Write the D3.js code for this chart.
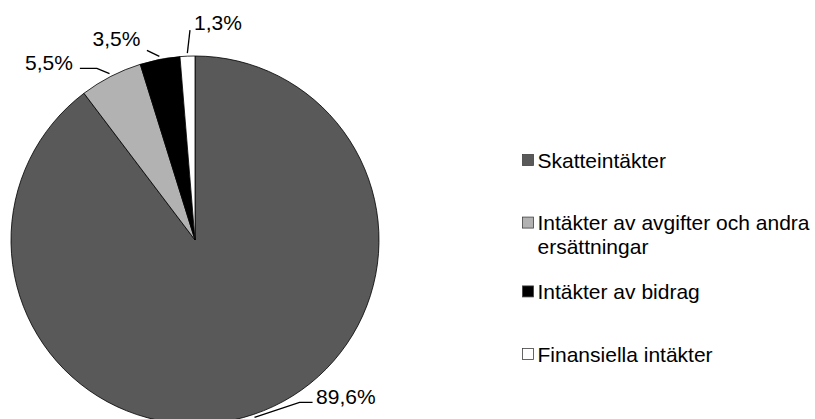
<!DOCTYPE html>
<html>
<head>
<meta charset="utf-8">
<script src="https://cdn.jsdelivr.net/npm/d3@7"></script>
<style>
  body { margin: 0; background: #fff; }
  text { font-family: "Liberation Sans", Arial, sans-serif; fill: #000; }
</style>
</head>
<body>
<div id="chart"></div>
<script>
var width = 815;
var height = 419;

// data
var categories = ["Skatteintäkter", "Intäkter av avgifter och andra ersättningar", "Intäkter av bidrag", "Finansiella intäkter"];
var values = [89.6, 5.5, 3.5, 1.3];
var valueLabels = ["89,6%", "5,5%", "3,5%", "1,3%"];
var legendLines = [["Skatteintäkter"], ["Intäkter av avgifter och andra", "ersättningar"], ["Intäkter av bidrag"], ["Finansiella intäkter"]];
var colors = ["#595959", "#b2b2b2", "#000000", "#ffffff"];

// label leader layout: elbow offset from slice edge, horizontal run, text offset
var labelLayout = [
    { ex: 46, ey: -12, run: 13, tx: 3.5, ty: 2, anchor: "start" },
    { ex: -14, ey: -8, run: -17, tx: -7, ty: 1.5, anchor: "end" },
    { ex: -13, ey: -9, run: 0, tx: -6.5, ty: -4.5, anchor: "end" },
    { ex: 2.5, ey: -26, run: 0, tx: 4, ty: -0.5, anchor: "start" }
];

var cx = 195, cy = 240, radius = 184;

var svg = d3.select("#chart")
    .append("svg")
    .attr("width", width)
    .attr("height", height);

var pie = d3.pie().sort(null).value(function (d) { return d; });
var arcs = pie(values);

var arc = d3.arc().innerRadius(0).outerRadius(radius);

var g = svg.append("g").attr("transform", "translate(" + cx + "," + cy + ")");

g.selectAll("path.slice")
    .data(arcs)
    .enter()
    .append("path")
    .attr("class", "slice")
    .attr("d", arc)
    .attr("fill", function (d, i) { return colors[i]; })
    .attr("stroke", "#000")
    .attr("stroke-width", 0.8)
    .attr("stroke-linejoin", "round");

// leader lines + labels
function edgePoint(d, r) {
    var a = (d.startAngle + d.endAngle) / 2;
    return [r * Math.sin(a), -r * Math.cos(a)];
}

arcs.forEach(function (d, i) {
    var L = labelLayout[i];
    var p0 = edgePoint(d, radius);
    var p1 = edgePoint(d, radius + 3);
    var elbow = [p0[0] + L.ex, p0[1] + L.ey];
    var end = [elbow[0] + L.run, elbow[1]];
    var pts = L.run === 0 ? [p1, elbow] : [p1, elbow, end];

    g.append("path")
        .attr("d", d3.line()(pts))
        .attr("fill", "none")
        .attr("stroke", "#000")
        .attr("stroke-width", 1.3);

    g.append("text")
        .attr("x", end[0] + L.tx)
        .attr("y", end[1] + L.ty)
        .attr("text-anchor", L.anchor)
        .style("font-size", "21px")
        .text(valueLabels[i]);
});

// legend: rows spaced by line slots (two-line entry takes a little more room)
var rowSlots = legendLines.map(function (lines, i) {
    return d3.sum(legendLines.slice(0, i), function (l) { return 1 + (l.length - 1) * 0.1; });
});
var legendY = d3.scaleLinear().domain([0, rowSlots[rowSlots.length - 1]]).range([160, 354]);
var legendX = 522;

var items = svg.selectAll("g.legend")
    .data(categories)
    .enter()
    .append("g")
    .attr("class", "legend")
    .attr("transform", function (d, i) { return "translate(" + legendX + "," + legendY(rowSlots[i]) + ")"; });

items.append("rect")
    .attr("x", 0.5)
    .attr("y", -5.5)
    .attr("width", 11)
    .attr("height", 11)
    .attr("fill", function (d, i) { return colors[i]; })
    .attr("stroke", "#404040")
    .attr("stroke-width", 0.8);

items.each(function (d, i) {
    var t = d3.select(this).append("text")
        .attr("x", 15.5)
        .attr("y", 7.5)
        .style("font-size", "21px");
    legendLines[i].forEach(function (line, j) {
        t.append("tspan")
            .attr("x", 15.5)
            .attr("dy", j === 0 ? 0 : 23.5)
            .text(line);
    });
});
</script>
</body>
</html>
